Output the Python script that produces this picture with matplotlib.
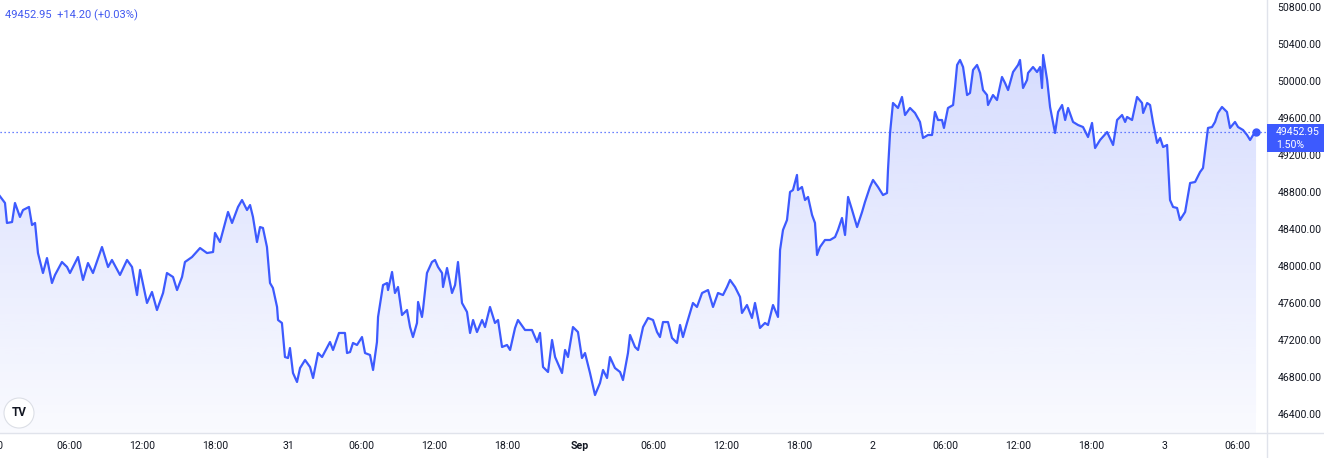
import matplotlib
matplotlib.use("Agg")
import matplotlib.pyplot as plt
import numpy as np
from matplotlib.colors import to_rgb
from matplotlib.patches import Circle, Rectangle
from matplotlib.lines import Line2D
from matplotlib.transforms import IdentityTransform

# ---------------- data (hours since Aug 30 00:00, price) ----------------
hours = [
    0.25, 0.74, 0.90, 1.32, 1.56, 1.97, 2.22, 2.71, 2.96, 3.21, 3.45, 3.86, 4.19, 4.60, 4.85, 5.42, 5.84, 6.08,
    6.74, 7.15, 7.56, 7.97, 8.71, 9.21, 9.53, 10.19, 10.77, 11.18, 11.59, 11.84, 12.41, 12.82, 13.23, 13.73,
    14.05, 14.55, 14.88, 15.29, 15.53, 16.11, 16.77, 17.34, 17.84, 18.00, 18.41, 19.07, 19.40, 19.89, 20.22,
    20.63, 20.88, 21.12, 21.45, 21.70, 21.94, 22.27,
    22.52, 22.76, 23.10, 23.18, 23.50, 23.75, 24.00, 24.16, 24.41, 24.74, 24.99, 25.40, 25.81, 26.06, 26.47,
    26.80, 27.45, 27.70, 28.19, 28.68, 28.85, 29.10, 29.34, 29.67, 30.08, 30.33, 30.74, 30.99, 31.31, 31.40,
    31.81, 32.14, 32.22, 32.55, 32.79, 33.04, 33.37, 33.78, 34.03, 34.27, 34.60, 34.69, 35.01, 35.09, 35.42,
    35.83, 36.08, 36.33, 36.66, 36.74, 37.07, 37.48, 37.73, 37.97, 38.30, 38.71, 38.96, 39.21, 39.53, 39.95,
    40.19, 40.60, 41.01, 41.26, 41.59, 42.00, 42.25, 42.66, 42.90, 43.48, 44.05, 44.47, 44.71, 44.96, 45.37,
    45.70, 45.95, 46.52, 46.77, 47.01, 47.42, 47.83, 48.16, 48.41, 48.82, 49.23, 49.64,
    49.89, 50.22, 50.46, 50.87, 51.29, 51.53, 51.94, 52.11, 52.52, 52.77, 53.18, 53.59, 54.00, 54.33, 54.57,
    54.82, 55.23, 55.56, 55.97, 56.22, 56.46, 56.79, 57.28, 57.61, 58.03, 58.52, 58.93, 59.34, 59.75, 60.08,
    60.33, 60.74, 61.15, 61.31, 61.72, 62.13, 62.38, 62.79, 63.20, 63.45, 63.86, 64.27, 64.44, 64.68, 65.01,
    65.26, 65.50, 65.83, 65.91, 66.24, 66.49, 66.74, 67.07, 67.31, 67.48, 67.72, 68.13, 68.55, 68.96, 69.20,
    69.53, 69.78, 70.03, 70.36, 70.77, 71.18, 71.42, 71.83, 72.08, 72.49, 72.90, 73.23, 73.31, 73.48,
    73.72, 74.13, 74.46, 74.71, 75.12, 75.53, 75.94, 76.19, 76.60, 76.93, 77.17, 77.42, 77.75, 77.91, 78.24,
    78.66, 78.82, 78.99, 79.23, 79.48, 79.81, 80.05, 80.30, 80.63, 80.88, 81.12, 81.45, 81.53, 81.94, 82.27,
    82.68, 82.93, 83.18, 83.59, 84.00, 84.16, 84.41, 84.74, 84.82, 85.23, 85.56, 85.81, 85.97, 86.06, 86.39,
    86.63, 86.80, 87.04, 87.29, 87.62, 87.87, 88.11, 88.52, 88.93, 89.34, 89.75, 90.08, 90.33, 90.74, 91.32,
    91.81, 92.14, 92.55, 92.80, 92.96, 93.37, 93.78, 94.19, 94.28, 94.61, 94.85, 95.10, 95.43, 95.68, 95.92,
    96.25, 96.49, 96.74, 97.07, 97.31, 97.73, 98.14, 98.55, 98.96, 99.20, 99.61, 99.94, 100.19, 100.43,
    100.76, 101.17, 101.42, 101.83, 102.08, 102.49, 102.82, 103.07, 103.32, 103.56,
]
prices = [
    48767, 48681, 48465, 48475, 48681, 48530, 48605, 48638, 48443, 48465, 48140, 47924, 48086, 47816, 47903,
    48043, 47989, 47924, 48097, 47849, 48032, 47924, 48205, 47989, 48065, 47903, 48065, 47989, 47686, 47957,
    47600, 47719, 47524, 47708, 47924, 47881, 47740, 47881, 48043, 48097, 48194, 48140, 48151, 48357, 48259,
    48584, 48465, 48638, 48713, 48605, 48659, 48530, 48259, 48421, 48411, 48205,
    47816, 47762, 47557, 47416, 47384, 47016, 47005, 47113, 46843, 46746, 46897, 46984, 46908, 46789, 47059,
    47016, 47178, 47092, 47276, 47276, 47059, 47070, 47168, 47146, 47232, 47059, 47038, 46876, 47178, 47449,
    47794, 47816, 47740, 47935, 47708, 47773, 47470, 47524, 47340, 47232, 47384, 47611, 47449, 47524, 47924,
    48043, 48065, 47989, 47924, 47773, 47978, 47708, 47794, 48043, 47600, 47503, 47276, 47416, 47286, 47416,
    47340, 47557, 47384, 47416, 47124, 47146, 47092, 47330, 47416, 47308, 47308, 47178, 47276, 46908, 46854,
    47200, 47016, 46843, 47092, 47016, 47340, 47286, 47005, 47059, 46843, 46605, 46735,
    46876, 46789, 47016, 46897, 46854, 46767, 47059, 47254, 47124, 47092, 47340, 47438, 47416, 47286, 47232,
    47394, 47394, 47222, 47168, 47362, 47232, 47384, 47600, 47557, 47708, 47740, 47557, 47708, 47686, 47773,
    47849, 47773, 47665, 47492, 47578, 47438, 47600, 47330, 47384, 47362, 47578, 47449, 48173, 48389, 48497,
    48800, 48821, 48984, 48821, 48854, 48713, 48746, 48551, 48465, 48119, 48205, 48281, 48281, 48313, 48389,
    48519, 48335, 48746, 48605, 48421, 48584, 48692, 48854, 48930, 48854, 48767, 48789, 49038, 49438,
    49762, 49708, 49827, 49632, 49708, 49654, 49557, 49384, 49416, 49416, 49665, 49578, 49578, 49492, 49708,
    49740, 49935, 50173, 50227, 50151, 49848, 49870, 50119, 50173, 50086, 49902, 49848, 49740, 49848, 49794,
    50043, 49978, 49902, 50097, 50173, 50227, 49924, 50011, 50086, 50151, 50097, 50151, 49924, 50281, 50011,
    49719, 49600, 49438, 49665, 49740, 49578, 49708, 49557, 49524, 49502, 49394, 49546, 49275, 49362, 49448,
    49308, 49578, 49632, 49557, 49611, 49578, 49827, 49762, 49654, 49762, 49740, 49546, 49330, 49384, 49286,
    49308, 48713, 48638, 48627, 48497, 48584, 48897, 48908, 49016, 49059, 49492, 49502, 49557, 49654, 49719,
    49665, 49492, 49557, 49502, 49470, 49416, 49362, 49416, 49452.95,
]
assert len(hours) == len(prices)

last_price = 49452.95
change_text = "+14.20 (+0.03%)"
pct_text = "1.50%"

y_ticks = [46400, 46800, 47200, 47600, 48000, 48400, 48800, 49200, 49600, 50000, 50400, 50800]
x_tick_hours = [6, 12, 18, 24, 30, 36, 42, 48, 54, 60, 66, 72, 78, 84, 90, 96, 102]
x_tick_labels = ["06:00", "12:00", "18:00", "31", "06:00", "12:00", "18:00", "Sep",
                 "06:00", "12:00", "18:00", "2", "06:00", "12:00", "18:00", "3", "06:00"]
first_label = "00:00"

# ---------------- style ----------------
W, H = 1324, 458
LINE = "#3d5afe"
TXT = "#131722"
GRID = "#e0e3eb"
FONT = ["Roboto", "DejaVu Sans"]
plt.rcParams["font.family"] = FONT

fig = plt.figure(figsize=(W / 100, H / 100), dpi=100)
fig.patch.set_facecolor("white")
plot_right_px = 1267
plot_bottom_px = 433
ax = fig.add_axes([0, (H - plot_bottom_px) / H, plot_right_px / W, plot_bottom_px / H])

xlim = (0.329, 104.46)
ylim = (46194.6, 50875.3)

# gradient area fill
ytop = max(prices)
n = 256
rgba = np.zeros((n, 1, 4))
rgba[..., :3] = to_rgb(LINE)
rgba[:, 0, 3] = np.linspace(0.03, 0.21, n)
im = ax.imshow(rgba, extent=[xlim[0] - 1, xlim[1] + 1, ylim[0], ytop], origin="lower",
               aspect="auto", interpolation="bilinear", zorder=1)
poly = ax.fill_between(hours, prices, ylim[0], facecolor="none", edgecolor="none")
im.set_clip_path(poly.get_paths()[0], transform=ax.transData)

ax.plot(hours, prices, color=LINE, lw=1.6, zorder=3, solid_joinstyle="round")
ax.plot([hours[-1]], [prices[-1]], "o", color=LINE, ms=5, zorder=4)
ax.axhline(last_price, color=LINE, lw=0.9, ls=(0, (1, 2.2)), zorder=2)

ax.set_xlim(*xlim)
ax.set_ylim(*ylim)
for s in ax.spines.values():
    s.set_visible(False)

ax.yaxis.tick_right()
ax.set_yticks(y_ticks)
ax.set_yticklabels([f"{v:.2f}" for v in y_ticks])
ax.tick_params(axis="y", length=0, pad=7.5, labelsize=7.6, labelcolor=TXT)
ax.set_xticks(x_tick_hours)
ax.set_xticklabels(x_tick_labels)
ax.tick_params(axis="x", length=0, pad=6, labelsize=7.6, labelcolor=TXT)
for lab in ax.get_xticklabels():
    if lab.get_text() == "Sep":
        lab.set_fontweight("bold")
ax.annotate(first_label, xy=(0, 0), xycoords="axes fraction", xytext=(2.2, -6),
            textcoords="offset points", ha="right", va="top", fontsize=7.6, color=TXT,
            annotation_clip=False)

# separators
fig.add_artist(Line2D([plot_right_px / W] * 2, [0, 1], transform=fig.transFigure, color=GRID, lw=1))
fig.add_artist(Line2D([0, 1], [(H - plot_bottom_px) / H] * 2, transform=fig.transFigure, color=GRID, lw=1))

# header text
fig.text(5, H - 15.5, f"{last_price:.2f}  {change_text}", transform=IdentityTransform(),
         ha="left", va="center", fontsize=8, color="#4058f0")

# price label box
fig.canvas.draw()
ypix = ax.transData.transform((0, last_price))[1]
fig.add_artist(Rectangle((plot_right_px, ypix - 20.5), W - plot_right_px, 28,
                         transform=IdentityTransform(), facecolor=LINE, edgecolor="none", zorder=5))
fig.text(1276, ypix - 0.5, f"{last_price:.2f}", transform=IdentityTransform(), ha="left",
         va="center", fontsize=7.6, color="white", zorder=6)
fig.text(1276, ypix - 13.5, pct_text, transform=IdentityTransform(), ha="left",
         va="center", fontsize=7.6, color="white", zorder=6)

# logo
fig.add_artist(Circle((19, H - 413), 15, transform=IdentityTransform(), facecolor="white",
                      edgecolor="#dcdfe6", lw=0.8, zorder=5))
fig.text(19, H - 413, "TV", transform=IdentityTransform(), ha="center", va="center",
         fontsize=8.5, fontweight="bold", color=TXT, zorder=6)

fig.savefig("out.png", dpi=100, facecolor="white")
